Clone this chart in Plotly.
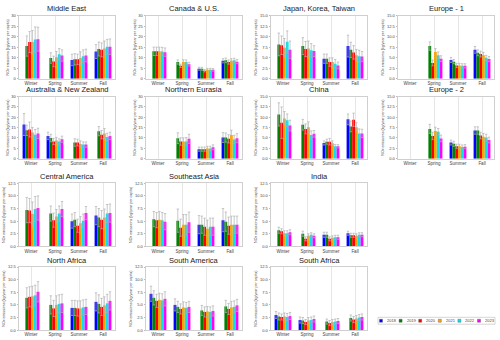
import plotly.graph_objects as go

SEASONS = ["Winter", "Spring", "Summer", "Fall"]
YEARS = ["2018", "2019", "2020", "2021", "2022", "2023"]
COLORS = ["#0000ff", "#008000", "#ff0000", "#ffa500", "#00e5ee", "#ff00ff"]
N = None

# values: one row per year (2018..2023), one column per season
middle_east = [[N, N, 9.0, 13.0], [15.6, 9.9, 9.3, 14.2], [17.5, 8.3, 9.3, 13.8],
               [17.5, 10.3, 9.9, 14.5], [18.7, 11.7, 10.8, 15.3], [18.9, 11.1, 11.1, 15.3]]
middle_east_err = [[N, N, 2.7, 3.3], [4.8, 2.5, 2.7, 3.3], [5.0, 2.5, 2.5, 3.3],
                   [5.5, 2.7, 3.0, 3.5], [6.0, 2.7, 3.0, 3.5], [5.7, 2.7, 3.0, 3.7]]

canada_us = [[N, N, 4.8, 8.6], [13.1, 8.0, 4.8, 8.8], [13.1, 6.2, 3.9, 8.0],
             [13.1, 8.0, 4.3, 8.6], [13.0, 8.0, 4.3, 8.8], [12.7, 7.0, 4.3, 8.2]]
canada_us_err = [[N, N, 0.7, 1.0], [2.0, 1.0, 0.7, 1.1], [2.0, 0.8, 0.6, 1.0],
                 [2.0, 1.1, 0.7, 1.0], [2.0, 1.0, 0.7, 1.0], [2.0, 0.9, 0.6, 1.0]]

japan_korea_taiwan = [[N, N, 4.8, 7.8], [8.2, 7.8, 4.8, 6.9], [8.0, 7.1, 4.0, 6.3],
                      [7.4, 7.2, 4.0, 5.6], [8.8, 6.8, 3.6, 5.4], [6.9, 6.6, 3.2, 5.3]]
japan_korea_taiwan_err = [[N, N, 1.1, 2.6], [2.7, 2.0, 1.1, 1.8], [2.2, 1.8, 1.0, 1.6],
                          [2.2, 1.8, 1.0, 1.4], [2.6, 1.6, 1.0, 1.4], [2.1, 1.3, 0.8, 1.2]]

europe_1 = [[N, N, 4.5, 6.9], [N, 7.8, 4.1, 6.2], [N, 3.8, 3.2, 5.9],
            [N, 6.4, 3.2, 5.6], [N, 5.6, 3.1, 5.0], [N, 4.8, 3.1, 4.7]]
europe_1_err = [[N, N, 0.6, 0.8], [N, 1.0, 0.5, 0.7], [N, 0.7, 0.5, 0.7],
                [N, 0.8, 0.5, 0.7], [N, 0.8, 0.5, 0.6], [N, 0.7, 0.5, 0.6]]

australia_nz = [[16.5, 11.0, N, N], [13.7, 10.0, 7.8, 13.3], [14.1, 8.3, 7.8, 11.6],
                [12.6, 8.8, 7.1, 12.2], [11.6, 8.3, 6.8, 10.5], [12.2, 9.4, 6.8, 11.0]]
australia_nz_err = [[5.3, 1.8, N, N], [2.5, 1.8, 1.8, 2.2], [3.6, 1.5, 1.6, 2.0],
                    [2.5, 1.5, 1.5, 2.4], [2.5, 1.3, 1.3, 1.8], [2.5, 1.5, 1.3, 1.8]]

northern_eurasia = [[N, N, 4.6, 10.2], [N, 9.9, 4.6, 10.2], [N, 8.3, 4.6, 9.6],
                    [N, 8.3, 4.9, 11.5], [N, 8.3, 4.9, 9.3], [N, 9.6, 5.5, 9.9]]
northern_eurasia_err = [[N, N, 1.0, 2.4], [N, 2.6, 1.0, 2.2], [N, 1.8, 1.0, 2.0],
                        [N, 1.8, 1.1, 2.3], [N, 1.9, 1.1, 2.0], [N, 2.2, 1.2, 2.2]]

china = [[N, N, 3.8, 9.5], [10.7, 8.2, 4.1, 7.8], [8.7, 7.2, 4.1, 9.4],
         [9.7, 7.6, 3.7, 7.6], [9.3, 5.7, 3.0, 6.1], [8.0, 6.0, 3.0, 6.1]]
china_err = [[N, N, 0.5, 1.3], [2.8, 1.3, 0.6, 1.3], [3.8, 1.2, 0.8, 1.6],
             [1.7, 1.3, 0.6, 1.1], [1.5, 1.0, 0.4, 1.1], [1.3, 0.8, 0.4, 1.0]]

europe_2 = [[N, N, 3.9, 6.8], [N, 7.2, 3.6, 6.8], [N, 5.5, 3.0, 5.6],
            [N, 6.7, 3.0, 5.3], [N, 6.5, 2.8, 5.1], [N, 4.9, 2.9, 4.5]]
europe_2_err = [[N, N, 0.6, 0.9], [N, 1.1, 0.6, 0.9], [N, 0.9, 0.5, 0.8],
                [N, 0.9, 0.5, 0.8], [N, 0.8, 0.5, 0.8], [N, 0.8, 0.5, 0.7]]

central_america = [[N, N, 5.0, 6.1], [7.2, 6.5, 5.3, 5.7], [7.1, 5.2, 4.1, 5.3],
                   [6.4, 5.9, 4.6, 5.7], [7.4, 6.5, 5.1, 6.5], [7.6, 7.4, 6.6, 6.6]]
central_america_err = [[N, N, 1.4, 1.8], [2.5, 1.5, 1.4, 1.8], [2.4, 1.4, 1.3, 1.8],
                       [2.4, 1.4, 1.3, 1.7], [2.5, 1.5, 1.3, 1.8], [2.4, 1.5, 1.3, 1.8]]

southeast_asia = [[N, N, 4.3, 5.2], [5.4, 5.1, 4.3, 4.9], [5.2, 3.7, 3.9, 4.1],
                  [5.3, 4.3, 3.5, 4.3], [5.2, 4.3, 3.9, 4.3], [4.9, 4.8, 3.9, 4.3]]
southeast_asia_err = [[N, N, 1.8, 2.3], [1.5, 2.3, 1.7, 1.9], [1.5, 1.7, 1.7, 1.7],
                      [1.6, 2.0, 1.7, 1.7], [1.5, 2.0, 1.7, 1.7], [1.6, 2.0, 1.7, 1.7]]

india = [[N, N, 2.3, 2.6], [3.2, 2.5, 2.3, 2.2], [3.0, 1.5, 1.5, 2.2],
         [2.6, 2.1, 1.7, 2.1], [2.6, 2.3, 1.8, 2.3], [2.8, 2.1, 1.8, 2.3]]
india_err = [[N, N, 0.5, 0.4], [0.6, 0.5, 0.5, 0.4], [0.5, 0.4, 0.4, 0.4],
             [0.5, 0.4, 0.4, 0.4], [0.5, 0.4, 0.4, 0.4], [0.5, 0.4, 0.4, 0.4]]

north_africa = [[N, N, 4.4, 5.6], [6.4, 5.0, 4.4, 5.2], [6.6, 4.3, 4.3, 4.6],
                [6.7, 5.0, 4.3, 4.9], [6.9, 5.2, 4.5, 5.3], [7.6, 5.3, 4.6, 5.8]]
north_africa_err = [[N, N, 1.5, 1.8], [2.0, 1.8, 1.5, 1.8], [2.0, 1.6, 1.5, 1.7],
                    [2.0, 1.8, 1.5, 1.7], [2.0, 1.8, 1.5, 1.8], [2.0, 1.8, 1.5, 1.8]]

south_america = [[7.2, 5.0, N, N], [6.4, 4.6, 3.9, 4.7], [5.8, 4.2, 3.6, 4.2],
                 [6.0, 4.5, 3.7, 4.5], [5.9, 4.4, 3.6, 4.6], [6.2, 4.6, 3.8, 4.9]]
south_america_err = [[1.5, 1.2, N, N], [1.4, 1.1, 1.0, 1.2], [1.3, 1.0, 1.0, 1.1],
                     [1.3, 1.1, 1.0, 1.2], [1.3, 1.1, 1.0, 1.2], [1.4, 1.1, 1.0, 1.2]]

south_africa = [[3.0, 2.0, N, N], [2.7, 1.9, 1.7, 2.4], [2.6, 1.6, 1.4, 2.1],
                [2.7, 1.9, 1.6, 2.3], [2.6, 2.0, 1.7, 2.5], [2.8, 2.2, 1.8, 2.6]]
south_africa_err = [[0.7, 0.6, N, N], [0.7, 0.6, 0.5, 0.6], [0.6, 0.5, 0.5, 0.6],
                    [0.7, 0.6, 0.5, 0.6], [0.7, 0.6, 0.5, 0.6], [0.7, 0.6, 0.5, 0.6]]

# (title, values, errors, y max, dtick, row, col)
panels = [
    ("Middle East", middle_east, middle_east_err, 30, 5, 0, 0),
    ("Canada & U.S.", canada_us, canada_us_err, 30, 5, 0, 1),
    ("Japan, Korea, Taiwan", japan_korea_taiwan, japan_korea_taiwan_err, 15, 2.5, 0, 2),
    ("Europe - 1", europe_1, europe_1_err, 15, 2.5, 0, 3),
    ("Australia & New Zealand", australia_nz, australia_nz_err, 30, 5, 1, 0),
    ("Northern Eurasia", northern_eurasia, northern_eurasia_err, 30, 5, 1, 1),
    ("China", china, china_err, 15, 2.5, 1, 2),
    ("Europe - 2", europe_2, europe_2_err, 15, 2.5, 1, 3),
    ("Central America", central_america, central_america_err, 12.5, 2.5, 2, 0),
    ("Southeast Asia", southeast_asia, southeast_asia_err, 12.5, 2.5, 2, 1),
    ("India", india, india_err, 12.5, 2.5, 2, 2),
    ("North Africa", north_africa, north_africa_err, 12.5, 2.5, 3, 0),
    ("South America", south_america, south_america_err, 12.5, 2.5, 3, 1),
    ("South Africa", south_africa, south_africa_err, 12.5, 2.5, 3, 2),
]

W, H = 500, 340
col_left = [19, 146, 271, 398]
plot_w = 96
row_top = [13, 95, 183, 268]
row_bot = [77, 158, 247, 332]

fig = go.Figure()
layout = {}
annotations = []

for i, (title, vals, errs, ymax, dt, r, c) in enumerate(panels, start=1):
    sfx = "" if i == 1 else str(i)
    for k, yr in enumerate(YEARS):
        fig.add_trace(go.Bar(
            x=SEASONS, y=vals[k], name=yr, marker_color=COLORS[k],
            marker_line_width=0, offsetgroup=yr, showlegend=False,
            error_y=dict(type="data", array=errs[k], color="#b0b0b0",
                         thickness=0.7, width=1.2),
            xaxis="x" + sfx, yaxis="y" + sfx,
        ))
    x0 = col_left[c] / W
    x1 = (col_left[c] + plot_w) / W
    y0 = 1 - row_bot[r] / H
    y1 = 1 - row_top[r] / H
    layout["xaxis" + sfx] = dict(
        domain=[x0, x1], anchor="y" + sfx, showline=True, mirror=True,
        linecolor="#cfcfcf", linewidth=0.8, showgrid=True, gridcolor="#e6e6e6",
        gridwidth=0.6, tickfont=dict(size=4.5, color="#444"), ticks="",
        categoryorder="array", categoryarray=SEASONS, ticklen=0,
    )
    layout["yaxis" + sfx] = dict(
        domain=[y0, y1], anchor="x" + sfx, range=[0, ymax], dtick=dt,
        tickformat=".1f" if dt == 2.5 else "d",
        showline=True, mirror=True, linecolor="#cfcfcf", linewidth=0.8,
        showgrid=False, zeroline=False, ticks="outside", ticklen=1.5,
        tickcolor="#bbb", tickfont=dict(size=4, color="#444"),
        title=dict(text="NOx emissions (kg/year per capita)",
                   font=dict(size=3.6, color="#444"), standoff=2),
    )
    annotations.append(dict(
        text=title, x=(x0 + x1) / 2, y=y1, xref="paper", yref="paper",
        xanchor="center", yanchor="bottom", yshift=0.5, showarrow=False,
        font=dict(size=7.5, color="#1a1a1a"),
    ))

# legend drawn as a small boxed strip at the bottom right
shapes = [dict(type="rect", xref="paper", yref="paper",
               x0=378 / W, x1=495 / W, y0=1 - 326 / H, y1=1 - 319 / H,
               line=dict(color="#bbbbbb", width=0.6), fillcolor="white")]
for k, yr in enumerate(YEARS):
    sx = 379.5 + 19.6 * k
    shapes.append(dict(type="rect", xref="paper", yref="paper",
                       x0=sx / W, x1=(sx + 3) / W,
                       y0=1 - 324 / H, y1=1 - 321 / H,
                       line=dict(width=0.4, color="#555"), fillcolor=COLORS[k]))
    annotations.append(dict(
        text=yr, x=(sx + 5.5) / W, y=1 - 322.5 / H, xref="paper", yref="paper",
        xanchor="left", yanchor="middle", showarrow=False,
        font=dict(size=4, color="#444"),
    ))

fig.update_layout(
    **layout,
    annotations=annotations,
    shapes=shapes,
    barmode="group",
    bargap=0.3,
    bargroupgap=0,
    width=W,
    height=H,
    margin=dict(l=0, r=0, t=0, b=0),
    paper_bgcolor="white",
    plot_bgcolor="white",
    font=dict(family="Arial, Liberation Sans, sans-serif"),
    showlegend=False,
)

fig.write_html(
    "out.html",
    config={"displayModeBar": False},
    post_script="document.body.style.margin='0px';document.body.style.overflow='hidden';",
)
